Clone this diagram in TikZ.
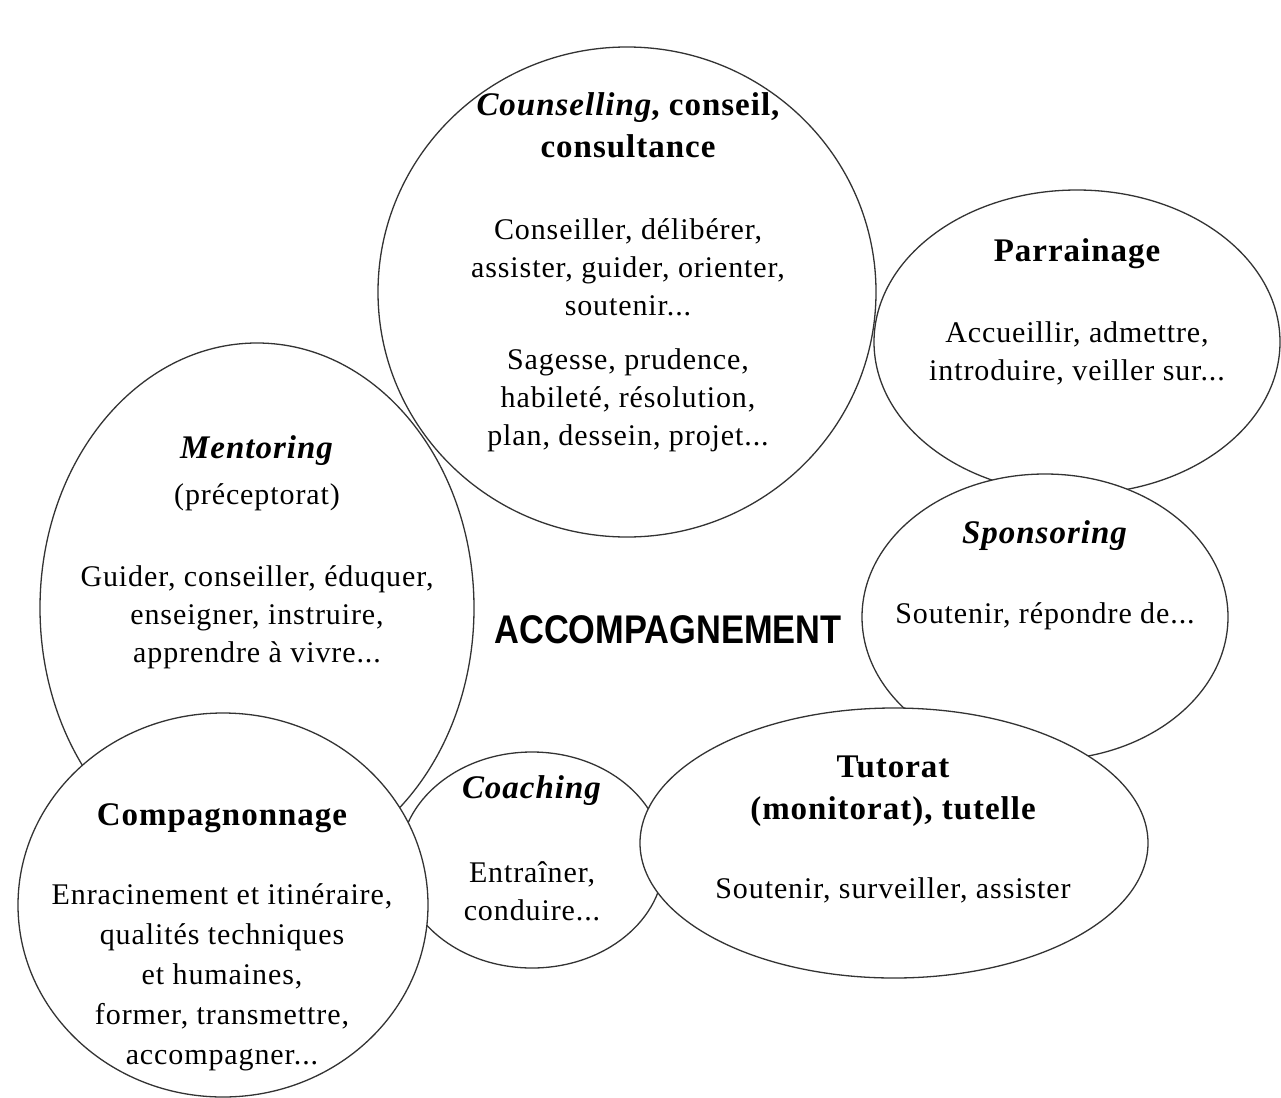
\documentclass[tikz,border=0pt]{standalone}
\usepackage{fontspec}
\setmainfont{Liberation Serif}[LetterSpace=3]
\newfontfamily\accfont[FakeStretch=0.86]{Liberation Sans}
\usetikzlibrary{shapes.geometric}
\begin{document}
\begin{tikzpicture}[x=1pt,y=-1pt,
  bubble/.style={draw=black!80,line width=1.3pt},
  fbubble/.style={bubble,fill=white},
  txt/.style={align=center,font=\fontsize{30}{38}\selectfont,inner sep=0pt},
  ttl/.style={align=center,font=\fontsize{33}{42}\selectfont\bfseries,inner sep=0pt}]
\useasboundingbox[fill=white] (0,0) rectangle (1281,1097);
% ellipses (later ones hide the parts of earlier ones that they cover)
\draw[bubble] (627,292) ellipse [x radius=249,y radius=245];
\draw[bubble] (257,608) ellipse [x radius=217,y radius=265];
\draw[fbubble] (1077,342) ellipse [x radius=203,y radius=152];
\draw[fbubble] (1045,617) ellipse [x radius=183,y radius=143];
\draw[fbubble] (532,860) ellipse [x radius=132,y radius=108];
\draw[fbubble] (223,905) ellipse [x radius=205,y radius=192];
\draw[fbubble] (894,843) ellipse [x radius=254,y radius=135];
% Counselling
\node[ttl] (coT) at (628,125) {\textit{Counselling}, conseil,\\consultance};
\node[txt] (coB1) at (628,267) {Conseiller, délibérer,\\assister, guider, orienter,\\soutenir...};
\node[txt] (coB2) at (628,400) {Sagesse, prudence,\\habileté, résolution,\\plan, dessein, projet...};
% Parrainage
\node[ttl] (paT) at (1077,254) {Parrainage};
\node[txt] (paB) at (1077,353) {Accueillir, admettre,\\introduire, veiller sur...};
% Sponsoring
\node[ttl] (spT) at (1045,536) {\textit{Sponsoring}};
\node[txt] (spB) at (1045,616) {Soutenir, répondre de...};
% Mentoring
\node[ttl] (meT) at (257,451) {\textit{Mentoring}};
\node[txt] (meS) at (257,497) {(préceptorat)};
\node[txt] (meB) at (257,617) {Guider, conseiller, éduquer,\\enseigner, instruire,\\apprendre à vivre...};
% Accompagnement
\node[inner sep=0pt,font=\accfont\bfseries\fontsize{40}{42}\selectfont] (acc) at (668,630) {ACCOMPAGNEMENT};
% Compagnonnage
\node[ttl] (cpT) at (222,818) {Compagnonnage};
\node[txt,font=\fontsize{30}{40}\selectfont] (cpB) at (222,977) {Enracinement et itinéraire,\\qualités techniques\\et humaines,\\former, transmettre,\\accompagner...};
% Coaching
\node[ttl] (caT) at (532,791) {\textit{Coaching}};
\node[txt] (caB) at (532,891) {Entraîner,\\conduire...};
% Tutorat
\node[ttl] (tuT) at (893,791) {Tutorat\\(monitorat), tutelle};
\node[txt] (tuB) at (893,890) {Soutenir, surveiller, assister};
\end{tikzpicture}
\end{document}
